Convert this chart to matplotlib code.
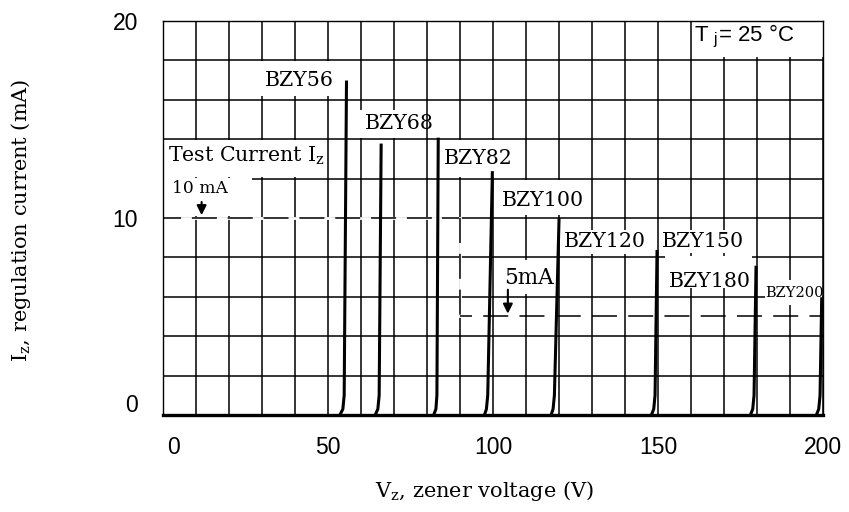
import matplotlib
matplotlib.use("Agg")
import numpy as np
from matplotlib import pyplot as plt
from matplotlib.patches import Rectangle
from matplotlib.transforms import ScaledTranslation

# zener curves: voltage (V) / current (mA) points per device
devices = ["BZY56", "BZY68", "BZY82", "BZY100", "BZY120", "BZY150", "BZY180", "BZY200"]
curve_v = [
    [53.6, 54.5, 54.9, 55.6],
    [64.3, 65.1, 65.5, 66.1],
    [82.0, 82.7, 83.0, 83.4],
    [97.4, 98.0, 98.4, 99.8],
    [117.6, 118.2, 118.6, 120.0],
    [148.0, 148.7, 149.1, 149.7],
    [178.0, 178.7, 179.1, 179.7],
    [198.0, 198.7, 199.1, 199.6],
]
curve_i = [
    [0, 0.3, 1.0, 16.9],
    [0, 0.3, 1.0, 13.7],
    [0, 0.3, 1.0, 14.0],
    [0, 0.3, 1.0, 12.3],
    [0, 0.3, 1.0, 9.9],
    [0, 0.3, 1.0, 8.3],
    [0, 0.3, 1.0, 7.5],
    [0, 0.3, 1.0, 5.9],
]
test_current_high = 10   # mA, up to BZY82
test_current_low = 5     # mA, from BZY100 on
x_ticks = [0, 50, 100, 150, 200]
y_ticks = [0, 10, 20]

# label anchors (left, middle) in data units
label_pos = [(31.0, 17.0), (61.2, 14.8), (85.2, 13.0), (102.7, 10.9),
             (121.5, 8.8), (151.2, 8.8), (153.3, 6.8), (182.4, 6.2)]
# white boxes that blank out the grid behind labels: x0, x1, y0, y1
blank_boxes = [
    (160.4, 200, 18.15, 20),      # Tj
    (29, 52, 16.2, 17.95),        # BZY56
    (59, 72, 14.05, 15.5),        # BZY68
    (84, 105, 12.1, 13.95),       # BZY82
    (101, 121, 10.15, 11.95),     # BZY100
    (120.5, 147, 8.15, 9.4),      # BZY120
    (150.5, 176, 8.2, 9.4),       # BZY150
    (152, 178.5, 6.45, 8.05),     # BZY180
    (182.5, 199.8, 5.6, 6.85),    # BZY200
    (0.3, 49, 12.1, 13.95),       # Test Current
    (0.3, 27, 10.1, 12.05),       # 10 mA
    (102, 118.8, 6.15, 7.85),     # 5mA
]

plt.rcParams['font.family'] = ['Liberation Sans', 'DejaVu Sans']
plt.rcParams['lines.scale_dashes'] = False
serif = ['DejaVu Serif']
lab_size = 14.8

fig, ax = plt.subplots(figsize=(8.49, 5.12), dpi=100)
fig.subplots_adjust(left=0.192, right=0.9694, bottom=0.1895, top=0.959)

ax.set_xlim(0, 200)
ax.set_ylim(0, 20)
ax.set_xticks(x_ticks)
ax.set_xticks(np.arange(0, 201, 10), minor=True)
ax.set_yticks(y_ticks)
ax.set_yticks(np.arange(0, 21, 2), minor=True)
ax.tick_params(which='both', length=0)
ax.tick_params(axis='x', labelsize=16.5, pad=15)
ax.tick_params(axis='y', labelsize=16.5, pad=18)
ax.grid(which='both', color='black', lw=1.1)
ax.set_axisbelow(True)
for s in ['left', 'top', 'right']:
    ax.spines[s].set_linewidth(1.0)
ax.spines['bottom'].set_linewidth(2.4)

# the zero labels sit a bit off in the original
fig.canvas.draw()
ax.get_xticklabels()[0].set_transform(
    ax.get_xticklabels()[0].get_transform() + ScaledTranslation(0.10, 0, fig.dpi_scale_trans))
ax.get_yticklabels()[0].set_transform(
    ax.get_yticklabels()[0].get_transform() + ScaledTranslation(0, 0.12, fig.dpi_scale_trans))

for x0, x1, y0, y1 in blank_boxes:
    ax.add_patch(Rectangle((x0, y0), x1 - x0, y1 - y0, facecolor='white',
                           edgecolor='none', zorder=1.5))

# test current markers
ax.plot([0, 84], [test_current_high] * 2, color='white', lw=2, zorder=1.6)
ax.plot([0, 84], [test_current_high] * 2, color='black', lw=1.1,
        ls=(5, (18, 7.8)), zorder=1.7)
ax.plot([90, 90], [test_current_high, test_current_low], color='white', lw=2, zorder=1.6)
ax.plot([90, 90], [test_current_high, test_current_low], color='black', lw=1.1,
        ls=(0, (18, 7.8)), zorder=1.7)
ax.plot([90, 200], [test_current_low] * 2, color='black', lw=1.1,
        ls=(9.4, (18, 8.1)), zorder=1.7)

for v, i in zip(curve_v, curve_i):
    ax.plot(v, i, color='black', lw=2.2, solid_joinstyle='round', zorder=3)

for name, (lx, ly) in zip(devices, label_pos):
    size = 10.5 if name == "BZY200" else lab_size
    ax.text(lx, ly, name, fontsize=size, family=serif, ha='left', va='center', zorder=4)

ax.text(1.5, 13.15, r"Test Current I$_\mathregular{z}$", fontsize=lab_size, family=serif,
        ha='left', va='center', zorder=4)
ax.text(2.8, 11.5, "10 mA", fontsize=12.3, family=serif, ha='left', va='center', zorder=4)
ax.annotate('', xy=(11.7, 10.0), xytext=(11.7, 10.95),
            arrowprops=dict(arrowstyle='-|>', color='black', lw=1.5, mutation_scale=14),
            zorder=4)
ax.text(103.4, 6.95, "5mA", fontsize=15.5, family=serif, ha='left', va='center', zorder=4)
ax.annotate('', xy=(104.5, 5.0), xytext=(104.5, 6.5),
            arrowprops=dict(arrowstyle='-|>', color='black', lw=1.5, mutation_scale=14),
            zorder=4)
ax.text(161.0, 19.2, r"T $_\mathregular{j}$= 25 °C", fontsize=16,
        family=['Liberation Sans', 'DejaVu Sans'], ha='left', va='center', zorder=4)

fig.text(21 / 849, 1 - 220 / 512, r"I$_\mathregular{z}$, regulation current (mA)",
         rotation=90, fontsize=15, family=serif, ha='center', va='center')
fig.text(484 / 849, 1 - 491 / 512, r"V$_\mathregular{z}$, zener voltage (V)",
         fontsize=15, family=serif, ha='center', va='center')

fig.savefig("out.png", dpi=100)
